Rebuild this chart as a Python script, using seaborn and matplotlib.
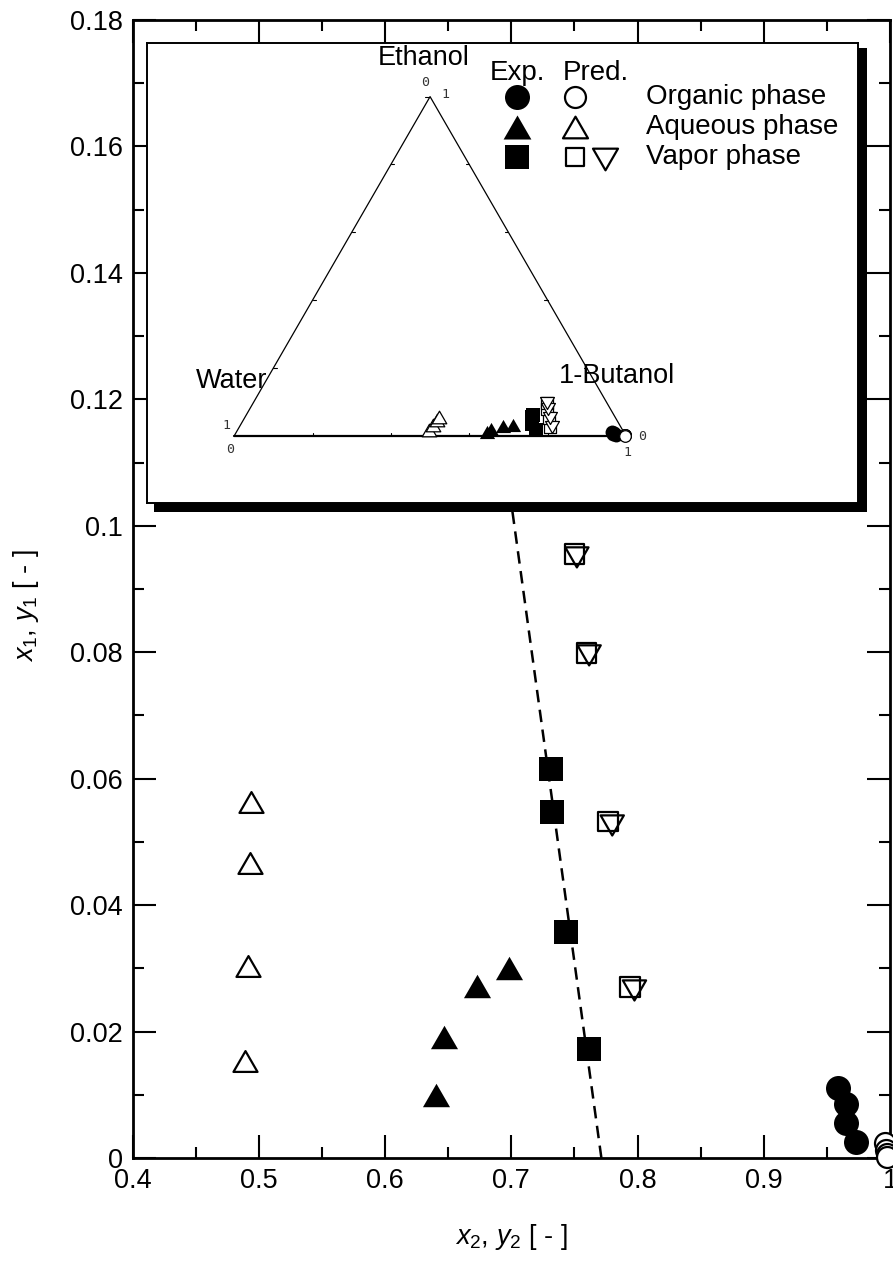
import numpy as np
import pandas as pd
import matplotlib
matplotlib.use("Agg")
import matplotlib.pyplot as plt
import seaborn as sns
from matplotlib.ticker import MultipleLocator, FuncFormatter
from matplotlib.path import Path

# ---------------- data (x2 = 1-butanol, x1 = ethanol) ----------------
org_exp_x2 = [0.959, 0.965, 0.965, 0.973]
org_exp_x1 = [0.0110, 0.0085, 0.0055, 0.0026]
org_pred_x2 = [0.996, 0.997, 0.998, 0.998]
org_pred_x1 = [0.0023, 0.0013, 0.0006, 0.0002]

aq_exp_x2 = [0.640, 0.647, 0.673, 0.698]
aq_exp_x1 = [0.0099, 0.0192, 0.0272, 0.0301]
aq_pred_x2 = [0.4895, 0.4913, 0.4932, 0.4942]
aq_pred_x1 = [0.0153, 0.0304, 0.0466, 0.0563]

vap_exp_y2 = [0.7612, 0.7437, 0.7325, 0.7317]
vap_exp_y1 = [0.0172, 0.0358, 0.0547, 0.0616]
vap_pred_sq_y2 = [0.7939, 0.7764, 0.7595, 0.7500]
vap_pred_sq_y1 = [0.0270, 0.0532, 0.0799, 0.0955]
vap_pred_tri_y2 = [0.7976, 0.7800, 0.7617, 0.7520]
vap_pred_tri_y1 = [0.0265, 0.0526, 0.0795, 0.0950]

line_x2 = [0.7714, 0.6887]
line_x1 = [0.0, 0.12]

x_ticks = [0.4, 0.5, 0.6, 0.7, 0.8, 0.9, 1.0]
y_ticks = [0, 0.02, 0.04, 0.06, 0.08, 0.1, 0.12, 0.14, 0.16, 0.18]

legend_rows = ["Organic phase", "Aqueous phase", "Vapor phase"]

# ---------------- style ----------------
sns.set_theme(style="ticks")
plt.rcParams['font.family'] = ['Liberation Sans', 'DejaVu Sans']
plt.rcParams['mathtext.fontset'] = 'custom'
plt.rcParams['mathtext.rm'] = 'Liberation Sans'
plt.rcParams['mathtext.it'] = 'Liberation Sans:italic'

TRI_UP = Path([(0, 0.433), (-0.5, -0.433), (0.5, -0.433), (0, 0.433)],
              [Path.MOVETO, Path.LINETO, Path.LINETO, Path.CLOSEPOLY])
TRI_DN = Path([(0, -0.433), (-0.5, 0.433), (0.5, 0.433), (0, -0.433)],
              [Path.MOVETO, Path.LINETO, Path.LINETO, Path.CLOSEPOLY])

W, H = 893, 1263
fig = plt.figure(figsize=(W / 100, H / 100), dpi=100)
fig.patch.set_facecolor('white')

L, R, T, B = 132.5, 890, 20, 1158
ax = fig.add_axes([L / W, 1 - B / H, (R - L) / W, (B - T) / H])
ax.set_facecolor('white')


def sc(a, x, y, marker, s, face, lw, z=3, clip=False):
    sns.scatterplot(x=x, y=y, ax=a, marker=marker, s=s, color=face,
                    edgecolor='black', linewidth=lw, zorder=z,
                    legend=False, clip_on=clip)


# dashed line
sns.lineplot(x=line_x2, y=line_x1, ax=ax, color='black', lw=1.8,
             linestyle=(0, (5, 3)), sort=False, estimator=None, zorder=2)

sc(ax, aq_pred_x2, aq_pred_x1, TRI_UP, 300, 'white', 1.6)
sc(ax, aq_exp_x2, aq_exp_x1, TRI_UP, 380, 'black', 0)
sc(ax, vap_pred_sq_y2, vap_pred_sq_y1, 's', 200, 'none', 1.6)
sc(ax, vap_pred_tri_y2, vap_pred_tri_y1, TRI_DN, 280, 'none', 1.6)
sc(ax, vap_exp_y2, vap_exp_y1, 's', 320, 'black', 0)
sc(ax, org_exp_x2, org_exp_x1, 'o', 324, 'black', 0)
sc(ax, org_pred_x2, org_pred_x1, 'o', 228, 'white', 1.6)

ax.set_xlim(0.4, 1.0)
ax.set_ylim(0, 0.18)
ax.set_xticks(x_ticks)
ax.set_yticks(y_ticks)
ax.xaxis.set_minor_locator(MultipleLocator(0.05))
ax.yaxis.set_minor_locator(MultipleLocator(0.01))
fmt = FuncFormatter(lambda v, p: ('%.2f' % v).rstrip('0').rstrip('.'))
ax.xaxis.set_major_formatter(fmt)
ax.yaxis.set_major_formatter(fmt)
ax.tick_params(which='both', direction='in', top=True, right=True,
               width=1.5, color='black', labelsize=19.5, pad=7,
               labelcolor='black')
ax.tick_params(which='major', length=16.5)
ax.tick_params(which='minor', length=8)
for sp in ax.spines.values():
    sp.set_linewidth(2)
    sp.set_color('black')
    sp.set_visible(True)

ax.set_xlabel(r'$\mathit{x}_\mathrm{2}$, $\mathit{y}_\mathrm{2}$ [ - ]',
              fontsize=19.5, color='black')
ax.set_ylabel(r'$\mathit{x}_\mathrm{1}$, $\mathit{y}_\mathrm{1}$ [ - ]',
              fontsize=19.5, color='black')
ax.xaxis.set_label_coords(0.5, -(1222 - B) / (B - T))
ax.yaxis.set_label_coords(-(L - 41) / (R - L), (B - 606) / (B - T))

# ---------------- inset ----------------
il, it, ir, ib = 147, 43, 858, 503
shadow = fig.add_axes([154 / W, 1 - 512 / H, (867 - 154) / W, (512 - 48) / H])
shadow.set_facecolor('black')
shadow.set_xticks([])
shadow.set_yticks([])
for sp in shadow.spines.values():
    sp.set_visible(False)

ins = fig.add_axes([il / W, 1 - ib / H, (ir - il) / W, (ib - it) / H])
ins.set_facecolor('white')
ins.set_xticks([])
ins.set_yticks([])
for sp in ins.spines.values():
    sp.set_linewidth(1.4)
    sp.set_color('black')
    sp.set_visible(True)
ins.set_xlim(-0.223, 1.593)
ins.set_ylim(-0.172, 1.003)

s3 = np.sqrt(3) / 2
# triangle frame
ins.plot([0, 0.5, 1], [0, s3, 0], color='black', lw=0.9)
ins.plot([0, 1], [0, 0], color='black', lw=1.6)
tk = 0.008
for t in [0.2, 0.4, 0.6, 0.8]:
    ins.plot([t, t], [0, tk], color='black', lw=0.8)
    lx, ly = 0.5 * t, s3 * t
    ins.plot([lx, lx + tk], [ly, ly], color='black', lw=0.8)
    rx, ry = 1 - 0.5 * t, s3 * t
    ins.plot([rx, rx - tk], [ry, ry], color='black', lw=0.8)
ins.plot([0.488, 0.5], [s3, s3], color='black', lw=0.8)

mono = dict(family='DejaVu Sans Mono', fontsize=9.5, color='#333333')
ins.text(0.487, 0.902, '0', ha='center', va='center', **mono)
ins.text(0.538, 0.871, '1', ha='center', va='center', **mono)
ins.text(-0.020, 0.027, '1', ha='center', va='center', **mono)
ins.text(-0.011, -0.036, '0', ha='center', va='center', **mono)
ins.text(1.041, -0.003, '0', ha='center', va='center', **mono)
ins.text(1.003, -0.042, '1', ha='center', va='center', **mono)

ins.text(0.4845, 0.947, 'Ethanol', ha='center', va='baseline', fontsize=19.5, color='black')
ins.text(-0.099, 0.122, 'Water', ha='left', va='baseline', fontsize=19.5, color='black')
ins.text(0.829, 0.135, '1-Butanol', ha='left', va='baseline', fontsize=19.5, color='black')


def tern(x2, x1):
    x2 = np.asarray(x2)
    x1 = np.asarray(x1)
    return x2 + x1 / 2, x1 * s3


for (x2, x1, m, s, face, lw) in [
    (aq_pred_x2, aq_pred_x1, TRI_UP, 110, 'white', 0.9),
    (aq_exp_x2, aq_exp_x1, TRI_UP, 120, 'black', 0),
    (vap_pred_sq_y2, vap_pred_sq_y1, 's', 70, 'white', 0.9),
    (vap_pred_tri_y2, vap_pred_tri_y1, TRI_DN, 100, 'white', 0.9),
    (vap_exp_y2, vap_exp_y1, 's', 90, 'black', 0),
    (org_exp_x2, org_exp_x1, 'o', 100, 'black', 0),
    (org_pred_x2, org_pred_x1, 'o', 70, 'white', 0.9),
]:
    tx, ty = tern(x2, x1)
    sc(ins, tx, ty, m, s, face, lw, z=4)

# legend (axes fraction of inset)
def fxi(px):
    return (px - il) / (ir - il)


def fyi(py):
    return (ib - py) / (ib - it)


tr = ins.transAxes
ins.text(fxi(517), fyi(80), 'Exp.', transform=tr, ha='center', va='baseline', fontsize=20, color='black')
ins.text(fxi(563), fyi(80), 'Pred.', transform=tr, ha='left', va='baseline', fontsize=20, color='black')
rows_y = [96.7, 127, 157]
leg_exp = [('o', 324), (TRI_UP, 400), ('s', 289)]
leg_pred = [('o', 228), (TRI_UP, 324), ('s', 187)]
for i, lab in enumerate(legend_rows):
    yy = fyi(rows_y[i])
    m, s = leg_exp[i]
    ins.scatter([fxi(517)], [yy], marker=m, s=s, c='black', linewidths=0, transform=tr, zorder=5)
    m, s = leg_pred[i]
    ins.scatter([fxi(575)], [yy], marker=m, s=s, c='white', edgecolors='black', linewidths=1.6, transform=tr, zorder=5)
    ins.text(fxi(646), yy, lab, transform=tr, ha='left', va='center', fontsize=20, color='black')
ins.scatter([fxi(604.6)], [fyi(rows_y[2]) - 0.004], marker=TRI_DN, s=324, c='white', edgecolors='black',
            linewidths=1.6, transform=tr, zorder=5)

fig.savefig('out.png', dpi=100, facecolor='white')
